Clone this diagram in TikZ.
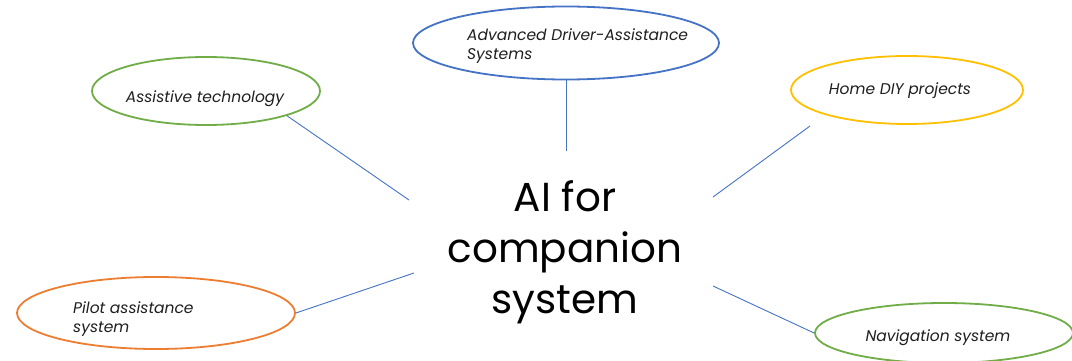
\documentclass[tikz,border=0pt]{standalone}
\usepackage{fontspec}
\setmainfont{Poppins}
\usetikzlibrary{shapes.geometric}
\definecolor{cblue}{HTML}{4472C4}
\definecolor{cgreen}{HTML}{70AD47}
\definecolor{cyellow}{HTML}{FFC000}
\definecolor{corange}{HTML}{ED7D31}
\definecolor{ctext}{HTML}{1F1F1F}
\tikzset{
  topic/.style={ellipse, draw, line width=1.8pt, inner sep=0pt, fill=white},
  topictext/.style={font=\fontsize{15.5}{19}\selectfont\itshape, text=ctext, inner sep=0pt},
  link/.style={draw=cblue, line width=0.9pt},
  hub/.style={font=\fontsize{40.5}{51}\selectfont, align=center, inner sep=0pt}
}
\begin{document}
\begin{tikzpicture}[x=1pt, y=-1pt]
  \useasboundingbox (0,0) rectangle (1072,361);
  \begin{scope}
  \clip (0,0) rectangle (1072,361);

  % central topic
  \node[hub] (hub) at (565,252) {AI for\\companion\\system};

  % surrounding topics
  \node[topic, draw=cblue, minimum width=306pt, minimum height=73pt] (adas) at (566,43) {};
  \node[topic, draw=cgreen, minimum width=228pt, minimum height=68pt] (assist) at (206,91) {};
  \node[topic, draw=cyellow, minimum width=232pt, minimum height=68pt] (diy) at (907,90) {};
  \node[topic, draw=corange, minimum width=278pt, minimum height=72pt] (pilot) at (156,313) {};
  \node[topic, draw=cgreen, minimum width=258pt, minimum height=60pt] (nav) at (944,333) {};

  % topic labels
  \node[topictext, align=left, anchor=west] (adast) at (467,46) {Advanced Driver-Assistance\\Systems};
  \node[topictext] (assistt) at (205,99) {Assistive technology};
  \node[topictext] (diyt) at (900,91) {Home DIY projects};
  \node[topictext, align=left, anchor=west] (pilott) at (73,319) {Pilot assistance\\system};
  \node[topictext] (navt) at (938,338) {Navigation system};

  % connector ends beside the central topic
  \coordinate (hadas) at (566,151);
  \coordinate (hassist) at (409,200);
  \coordinate (hdiy) at (713,197);
  \coordinate (ediy) at (810,126);
  \coordinate (hpilot) at (414,273);
  \coordinate (hnav) at (713,286);

  % connectors
  \draw[link] (adas.south) -- (hadas);
  \draw[link] (assist.-17) -- (hassist);
  \draw[link] (ediy) -- (hdiy);
  \draw[link] (pilot.east) -- (hpilot);
  \draw[link] (nav.west) -- (hnav);
  \end{scope}
\end{tikzpicture}
\end{document}
